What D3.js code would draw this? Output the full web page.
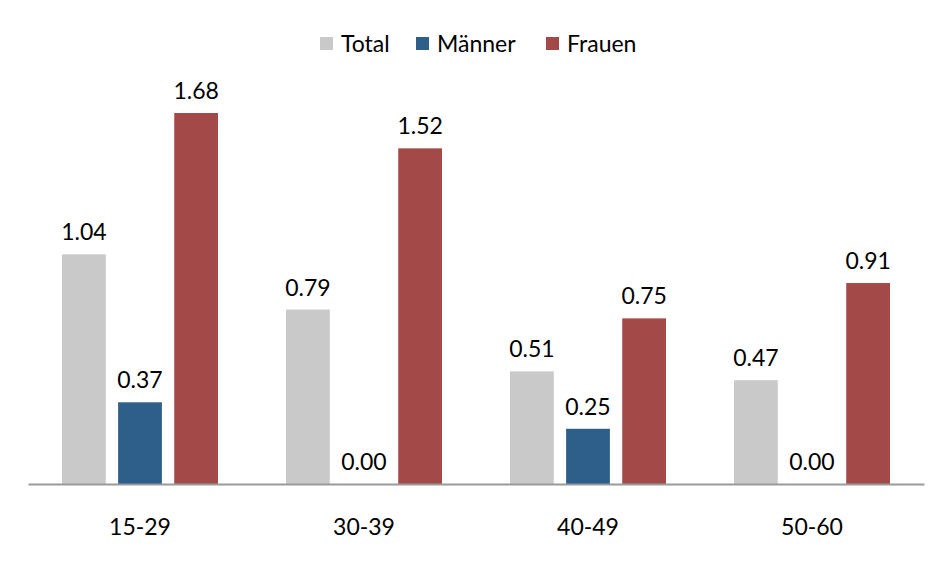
<!DOCTYPE html>
<html>
<head>
<meta charset="utf-8">
<script src="https://cdn.jsdelivr.net/npm/d3@7"></script>
<style>
  body { margin: 0; background: #fff; }
  text { font-family: Lato, "Open Sans", sans-serif; fill: #000; }
</style>
</head>
<body>
<div id="chart"></div>
<script>
var categories = ["15-29", "30-39", "40-49", "50-60"];
var seriesNames = ["Total", "Männer", "Frauen"];
var total = [1.04, 0.79, 0.51, 0.47];
var maenner = [0.37, 0.00, 0.25, 0.00];
var frauen = [1.68, 1.52, 0.75, 0.91];
var colors = ["#c9c9c9", "#2e5f8a", "#a34a48"];

var width = 952, height = 572;
var svg = d3.select("#chart").append("svg")
  .attr("width", width)
  .attr("height", height);

var x0 = d3.scaleBand().domain(categories).range([28, 924]).paddingInner(0).paddingOuter(0);
var x1 = d3.scaleBand().domain(seriesNames).range([34, 190]).paddingInner(0.22);
var y = d3.scaleLinear().domain([0, 1.68]).range([484, 113]);

var rows = categories.map(function (c, i) {
  return { cat: c, vals: [total[i], maenner[i], frauen[i]] };
});

var groups = svg.selectAll("g.grp").data(rows).enter().append("g")
  .attr("class", "grp")
  .attr("transform", function (d) { return "translate(" + x0(d.cat) + ",0)"; });

groups.selectAll("rect").data(function (d) {
  return d.vals.map(function (v, j) { return { v: v, s: seriesNames[j], j: j }; });
}).enter().append("rect")
  .attr("x", function (d) { return x1(d.s); })
  .attr("y", function (d) { return y(d.v); })
  .attr("width", x1.bandwidth())
  .attr("height", function (d) { return y(0) - y(d.v); })
  .attr("fill", function (d) { return colors[d.j]; });

groups.selectAll("text.val").data(function (d) {
  return d.vals.map(function (v, j) { return { v: v, s: seriesNames[j] }; });
}).enter().append("text")
  .attr("class", "val")
  .attr("x", function (d) { return x1(d.s) + x1.bandwidth() / 2; })
  .attr("y", function (d) { return y(d.v) - 14; })
  .attr("text-anchor", "middle")
  .style("font-size", "23px")
  .text(function (d) { return d.v.toFixed(2); });

// x axis
var xAxis = svg.append("g")
  .attr("transform", "translate(0," + y(0) + ")")
  .call(d3.axisBottom(x0).tickSize(0).tickPadding(35));
xAxis.select(".domain").attr("stroke", "#999").attr("stroke-width", 2);
xAxis.selectAll("text").style("font-size", "23px").attr("font-family", null);

// legend
var legendX = [320, 416, 546];
var legend = svg.selectAll("g.leg").data(seriesNames).enter().append("g")
  .attr("class", "leg")
  .attr("transform", function (d, i) { return "translate(" + legendX[i] + ",37)"; });
legend.append("rect").attr("width", 13).attr("height", 13)
  .attr("fill", function (d, i) { return colors[i]; });
legend.append("text").attr("x", 21).attr("y", 15)
  .style("font-size", "23px")
  .text(function (d) { return d; });
</script>
</body>
</html>
